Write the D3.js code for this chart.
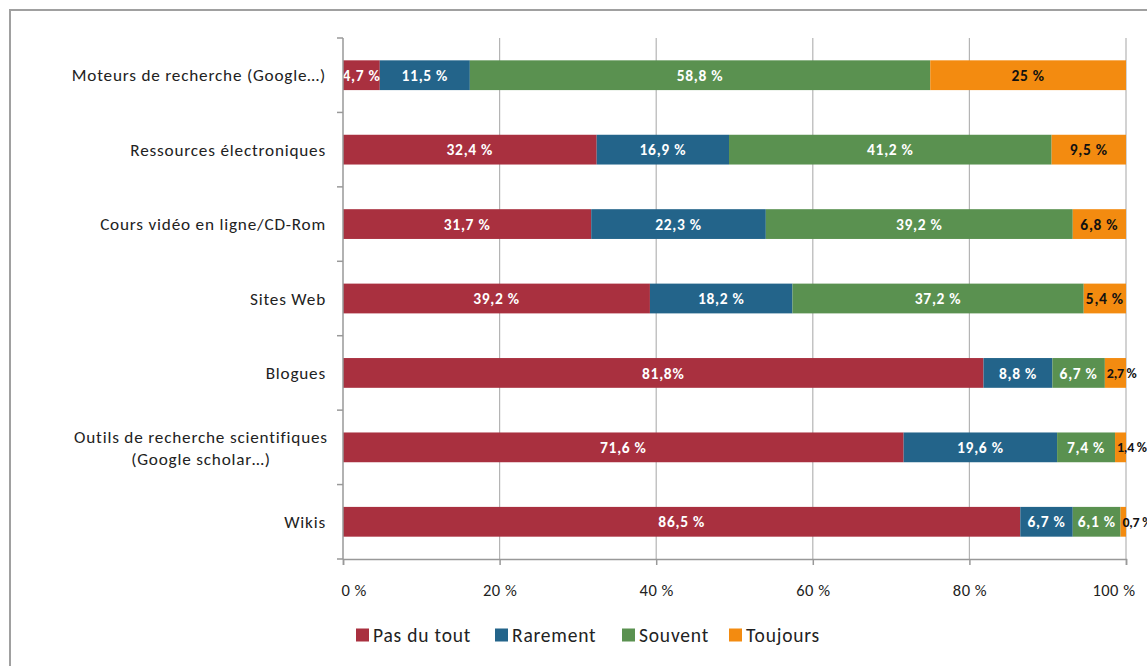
<!DOCTYPE html>
<meta charset="utf-8">
<style>
    body { margin: 0; background: #fff; }
    text { font-family: Carlito, Lato, "Open Sans", sans-serif; }
</style>
<svg width="1147" height="666"></svg>
<script src="https://d3js.org/d3.v7.min.js"></script>
<script>

var categories = [
    "Moteurs de recherche (Google…)",
    "Ressources électroniques",
    "Cours vidéo en ligne/CD-Rom",
    "Sites Web",
    "Blogues",
    "Outils de recherche scientifiques\n(Google scholar…)",
    "Wikis"
];
var series = ["Pas du tout", "Rarement", "Souvent", "Toujours"];
var pasDuTout = [4.7, 32.4, 31.7, 39.2, 81.8, 71.6, 86.5];
var rarement  = [11.5, 16.9, 22.3, 18.2, 8.8, 19.6, 6.7];
var souvent   = [58.8, 41.2, 39.2, 37.2, 6.7, 7.4, 6.1];
var toujours  = [25, 9.5, 6.8, 5.4, 2.7, 1.4, 0.7];
// labels as printed on the chart
var labelsText = [
    ["4,7 %", "32,4 %", "31,7 %", "39,2 %", "81,8%", "71,6 %", "86,5 %"],
    ["11,5 %", "16,9 %", "22,3 %", "18,2 %", "8,8 %", "19,6 %", "6,7 %"],
    ["58,8 %", "41,2 %", "39,2 %", "37,2 %", "6,7 %", "7,4 %", "6,1 %"],
    ["25 %", "9,5 %", "6,8 %", "5,4 %", "2,7 %", "1,4 %", "0,7 %"]
];
var xTicks = [0, 20, 40, 60, 80, 100];
var colors = ["#a9303f", "#23648a", "#5a9150", "#f38b10"];

var svg = d3.select("svg");

// outer frame
svg.append("path")
    .attr("d", "M10,680V10H1160")
    .attr("fill", "none")
    .attr("stroke", "#a0a0a0")
    .attr("stroke-width", 2);

var x = d3.scaleLinear().domain([0, 100]).range([343, 1126]);
var y = d3.scaleBand().domain(categories).range([38, 559]).paddingInner(0.6).paddingOuter(0.3);

// gridlines
svg.append("g")
    .selectAll("line")
    .data(xTicks.slice(1))
    .enter()
    .append("line")
    .attr("x1", function(d) { return x(d); })
    .attr("x2", function(d) { return x(d); })
    .attr("y1", 38)
    .attr("y2", 559)
    .attr("stroke", "#b4b4b4")
    .attr("stroke-width", 1.2);

var rows = categories.map(function(c, i) {
    return {cat: c, vals: [pasDuTout[i], rarement[i], souvent[i], toujours[i]]};
});

var stack = d3.stack()
    .keys([0, 1, 2, 3])
    .value(function(d, k) { return d.vals[k]; });
var layers = stack(rows);

var g = svg.append("g")
    .selectAll("g")
    .data(layers)
    .enter()
    .append("g")
    .attr("fill", function(d, i) { return colors[i]; });

g.selectAll("rect")
    .data(function(d) { return d; })
    .enter()
    .append("rect")
    .attr("x", function(d) { return x(d[0]); })
    .attr("width", function(d) { return x(d[1]) - x(d[0]); })
    .attr("y", function(d) { return y(d.data.cat); })
    .attr("height", y.bandwidth());

// data labels
layers.forEach(function(layer, k) {
    svg.append("g")
        .selectAll("text")
        .data(layer)
        .enter()
        .append("text")
        .attr("x", function(d, i) {
            if (k === 3 && i >= 4) return x(d[0]) + 2;
            return x((d[0] + d[1]) / 2);
        })
        .attr("y", function(d) { return y(d.data.cat) + y.bandwidth() / 2; })
        .attr("dy", "0.36em")
        .attr("text-anchor", function(d, i) { return (k === 3 && i >= 4) ? "start" : "middle"; })
        .attr("font-size", function(d, i) { return (k === 3 && i >= 4) ? 14 : 15.5; })
        .attr("font-weight", "bold")
        .attr("letter-spacing", function(d, i) { return (k === 3 && i >= 4) ? "-0.3px" : "0.7px"; })
        .attr("fill", k === 3 ? "#111" : "#fff")
        .text(function(d, i) { return labelsText[k][i]; });
});

// y axis
var yAxisG = svg.append("g");
yAxisG.append("line")
    .attr("x1", 343).attr("x2", 343)
    .attr("y1", 38).attr("y2", 559)
    .attr("stroke", "#999").attr("stroke-width", 1.5);
var step = (559 - 38) / categories.length;
yAxisG.selectAll(".tk")
    .data(d3.range(categories.length + 1))
    .enter()
    .append("line")
    .attr("x1", 337).attr("x2", 343)
    .attr("y1", function(d) { return 38 + d * step; })
    .attr("y2", function(d) { return 38 + d * step; })
    .attr("stroke", "#999").attr("stroke-width", 1.5);

yAxisG.selectAll("text")
    .data(categories)
    .enter()
    .append("text")
    .attr("y", function(d) { return y(d) + y.bandwidth() / 2; })
    .attr("font-size", 17.2)
    .attr("letter-spacing", "0.8px")
    .attr("fill", "#222")
    .each(function(d) {
        var lines = d.split("\n");
        var t = d3.select(this);
        lines.forEach(function(l, i) {
            t.append("tspan")
                .attr("x", lines.length > 1 ? 201 : 326)
                .attr("text-anchor", lines.length > 1 ? "middle" : "end")
                .attr("dy", i === 0 ? (0.35 - (lines.length - 1) * 0.6) + "em" : "1.25em")
                .text(l);
        });
    });

// x axis
var xAxis = d3.axisBottom(x)
    .tickValues(xTicks)
    .tickSize(6)
    .tickFormat(function(d) { return d + " %"; });
var xg = svg.append("g")
    .attr("transform", "translate(0,559)")
    .call(xAxis);
xg.select(".domain").attr("stroke", "#999").attr("stroke-width", 1.5);
xg.selectAll(".tick line").attr("stroke", "#999").attr("stroke-width", 1.5);
xg.selectAll(".tick text")
    .attr("y", 25)
    .attr("font-size", 16.5)
    .attr("letter-spacing", "0.5px")
    .attr("font-family", "Carlito, Lato, sans-serif")
    .attr("fill", "#222");
// end labels sit inside the plot edges as in the original
xg.selectAll(".tick text")
    .filter(function(d) { return d === 0; })
    .attr("text-anchor", "start").attr("dx", -2);
xg.selectAll(".tick text")
    .filter(function(d) { return d === 100; })
    .attr("text-anchor", "end").attr("dx", 9);

// legend
var legendX = [356, 495, 622, 729];
var lg = svg.append("g")
    .selectAll("g")
    .data(series)
    .enter()
    .append("g")
    .attr("transform", function(d, i) { return "translate(" + legendX[i] + ",635)"; });
lg.append("rect")
    .attr("x", 0).attr("y", -6.5)
    .attr("width", 13).attr("height", 13)
    .attr("fill", function(d, i) { return colors[i]; });
lg.append("text")
    .attr("x", 17)
    .attr("dy", "0.36em")
    .attr("font-size", 19.5)
    .attr("letter-spacing", "0.8px")
    .attr("fill", "#222")
    .text(function(d) { return d; });

</script>
